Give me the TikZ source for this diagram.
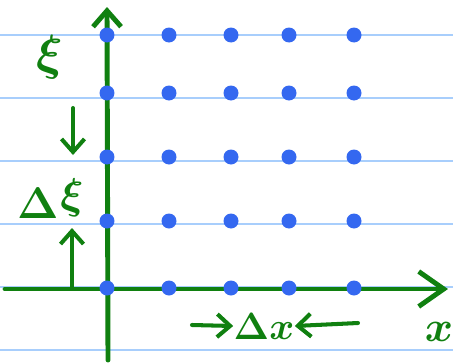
\documentclass[tikz,border=0pt]{standalone}
\usepackage{amsmath,amssymb}
\usepackage{tikz}
\usetikzlibrary{arrows.meta}
\definecolor{axisgreen}{RGB}{16,128,16}
\definecolor{dotblue}{RGB}{52,104,240}
\definecolor{ruleblue}{RGB}{168,206,252}

\begin{document}
\begin{tikzpicture}[x=0.02cm, y=-0.02cm, every node/.style={text=axisgreen, inner sep=0pt, font=\Large\boldmath}]
  \useasboundingbox (0,0) rectangle (453,362);
  % ruled paper
  \foreach \y in {35,98,161,224,287,350}
    \draw[ruleblue, line width=1.1pt] (0,\y) -- (453,\y);
  % axes
  \coordinate (Xstart) at (5,289);
  \coordinate (Xend) at (448,289);
  \coordinate (Ystart) at (108,360);
  \coordinate (Yend) at (107,7);
  \draw[axisgreen, line width=2.8pt, line cap=round, -{Straight Barb[length=5mm,width=7mm]}]
    (Xstart) -- (Xend);
  \draw[axisgreen, line width=2.8pt, line cap=round, -{Straight Barb[length=3.2mm,width=5.6mm]}]
    (Ystart) -- (Yend);
  % grid points
  \foreach \y in {35,93,157,221,288}
    \foreach \x in {107,169,231,289,354}
      \fill[dotblue] (\x,\y) ellipse[x radius=0.15cm, y radius=0.15cm];
  % labels
  \node[scale=1.95] (xi) at (50,57) {$\xi$};
  \node[scale=1.75] (delta) at (38,203) {$\Delta$};
  \node[scale=1.7] (dxi) at (72,198) {$\xi$};
  \node[scale=1.5] (dx) at (264,326) {$\Delta x$};
  \node[scale=1.7] (xlab) at (439,332) {$x$};
  \coordinate (Dtop) at (73,108);
  \coordinate (Dbot) at (73,155);
  \coordinate (Ubot) at (72,288);
  \coordinate (Utop) at (72,228);
  \coordinate (Lleft) at (192,325);
  \coordinate (Lright) at (358,323);
  \draw[axisgreen, line width=2.3pt, line cap=round, -{Straight Barb[length=2.6mm,width=4.6mm]}] (Dtop) -- (Dbot);
  \draw[axisgreen, line width=2.3pt, line cap=round, -{Straight Barb[length=2.6mm,width=4.6mm]}] (Ubot) -- (Utop);
  \draw[axisgreen, line width=2.3pt, line cap=round, -{Straight Barb[length=2.6mm,width=4.6mm]}] (Lleft) -- (dx.west);
  \draw[axisgreen, line width=2.3pt, line cap=round, -{Straight Barb[length=2.6mm,width=4.6mm]}] (Lright) -- (dx.east);
\end{tikzpicture}
\end{document}
